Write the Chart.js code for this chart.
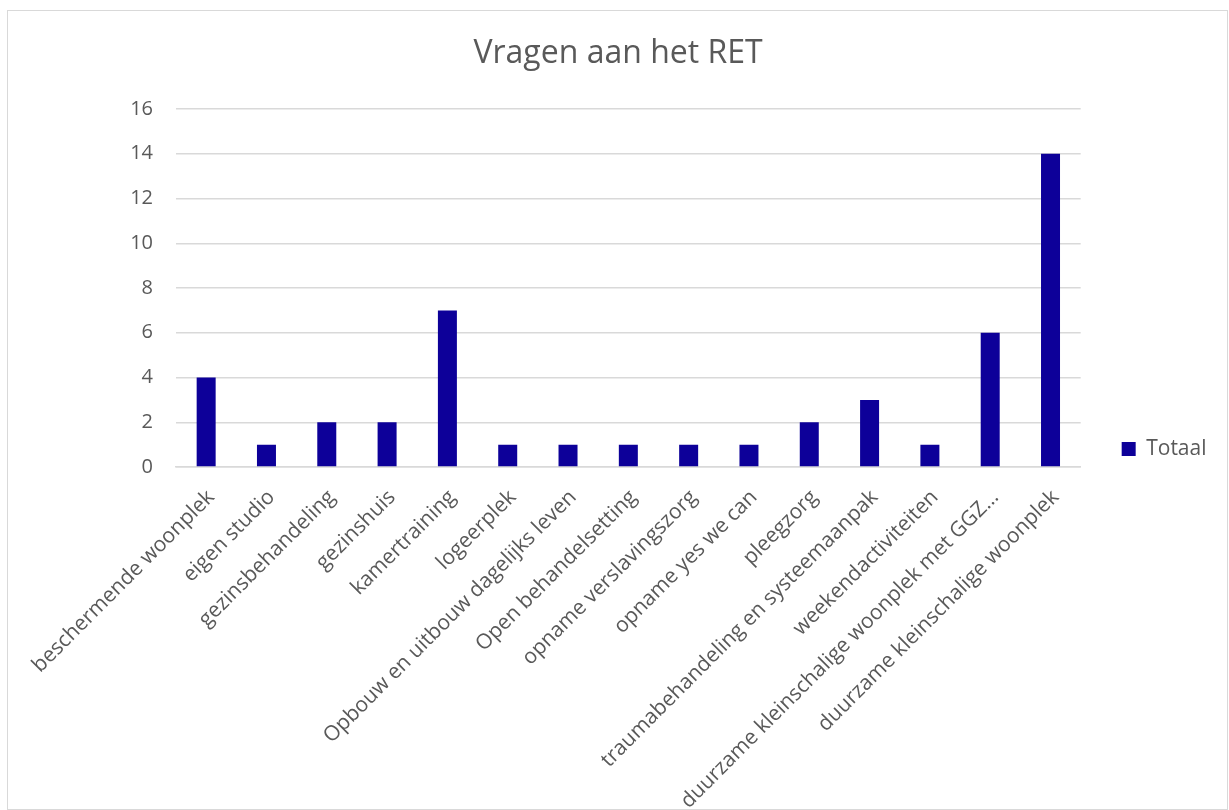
<!DOCTYPE html>
<html>
<head>
<meta charset="utf-8">
<script src="https://cdn.jsdelivr.net/npm/chart.js@4.4.1/dist/chart.umd.min.js"></script>
<style>
  body { margin: 0; background: #fff; }
  #box { position: absolute; left: 7px; top: 10px; width: 1221px; height: 800px; border: 1px solid #d9d9d9; box-sizing: border-box; }
</style>
</head>
<body>
<div id="box"><canvas id="chart"></canvas></div>
<script>
const categories = [
  "beschermende woonplek", "eigen studio", "gezinsbehandeling", "gezinshuis",
  "kamertraining", "logeerplek", "Opbouw en uitbouw dagelijks leven",
  "Open behandelsetting", "opname verslavingszorg", "opname yes we can",
  "pleegzorg", "traumabehandeling en systeemaanpak", "weekendactiviteiten",
  "duurzame kleinschalige woonplek met GGZ\u2026", "duurzame kleinschalige woonplek"
];
const totaal = [4, 1, 2, 2, 7, 1, 1, 1, 1, 1, 2, 3, 1, 6, 14];
const yTicks = [0, 2, 4, 6, 8, 10, 12, 14, 16];

const grey = "#595959";
const font = "'Open Sans', sans-serif";

new Chart(document.getElementById("chart"), {
  type: "bar",
  data: {
    labels: categories,
    datasets: [{
      label: "Totaal",
      data: totaal,
      backgroundColor: "#0D0099",
      categoryPercentage: 1,
      barPercentage: 0.315
    }]
  },
  options: {
    responsive: true,
    maintainAspectRatio: false,
    animation: false,
    layout: { padding: { left: 11.5, right: 10.5, top: 0, bottom: 0 } },
    plugins: {
      title: {
        display: true,
        text: "Vragen aan het RET",
        color: grey,
        font: { family: font, size: 32, weight: "normal" },
        padding: { top: 24, bottom: 35.6 }
      },
      legend: {
        position: "right",
        // empty legend title only pushes the item down so it sits where Excel puts it
        title: { display: true, text: "", font: { size: 12 }, padding: { top: 0, bottom: 63.6 } },
        labels: {
          color: grey,
          font: { family: font, size: 21 },
          boxWidth: 14,
          boxHeight: 14,
          padding: 41
        }
      },
      tooltip: { enabled: false }
    },
    scales: {
      x: {
        afterFit: axis => { axis.height = 342; },
        grid: { display: false },
        border: { color: "#d9d9d9", width: 1.5 },
        ticks: {
          color: grey,
          font: { family: font, size: 21 },
          maxRotation: 45,
          minRotation: 45,
          autoSkip: false,
          padding: 10,
          labelOffset: 5
        }
      },
      y: {
        min: 0,
        max: 16,
        afterBuildTicks: axis => { axis.ticks = yTicks.map(v => ({ value: v })); },
        afterFit: axis => { axis.width = 156.5; },
        grid: { color: "#d9d9d9", lineWidth: 1.5, drawTicks: false },
        border: { display: false },
        ticks: {
          color: grey,
          font: { family: font, size: 20 },
          padding: 23
        }
      }
    }
  }
});
</script>
</body>
</html>
